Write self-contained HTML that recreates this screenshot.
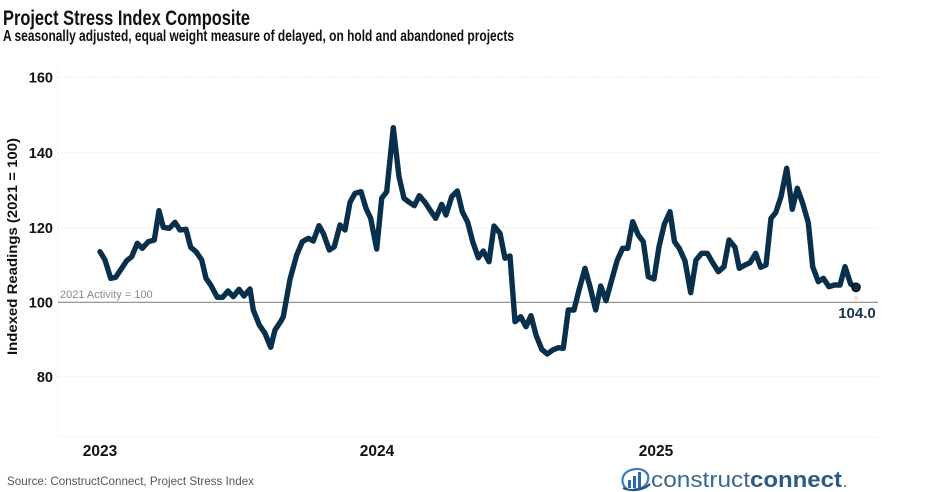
<!DOCTYPE html>
<html>
<head>
<meta charset="utf-8">
<style>
  html, body { margin: 0; padding: 0; background: #ffffff; }
  svg { display: block; }
  text { font-family: "Liberation Sans", Arial, sans-serif; }
</style>
</head>
<body>
<svg width="950" height="492" viewBox="0 0 950 492" xmlns="http://www.w3.org/2000/svg">
  <rect x="0" y="0" width="950" height="492" fill="#ffffff"/>

  <!-- Title / subtitle -->
  <text x="3" y="25" font-size="21" font-weight="bold" fill="#111" textLength="247" lengthAdjust="spacingAndGlyphs">Project Stress Index Composite</text>
  <text x="3" y="41" font-size="15.5" font-weight="bold" fill="#111" textLength="511" lengthAdjust="spacingAndGlyphs">A seasonally adjusted, equal weight measure of delayed, on hold and abandoned projects</text>

  <!-- plot frame (very faint) -->
  <line x1="58" y1="64" x2="58" y2="437" stroke="#f4f4f4" stroke-width="1"/>
  <line x1="58" y1="437" x2="878" y2="437" stroke="#f4f4f4" stroke-width="1"/>

  <!-- gridlines -->
  <g stroke="#efefef" stroke-width="1" stroke-dasharray="2,1">
    <line x1="58" y1="77.3" x2="878" y2="77.3"/>
    <line x1="58" y1="152.6" x2="878" y2="152.6"/>
    <line x1="58" y1="227.6" x2="878" y2="227.6"/>
    <line x1="58" y1="376.8" x2="878" y2="376.8"/>
  </g>
  <!-- 100 baseline -->
  <line x1="58" y1="302.3" x2="878" y2="302.3" stroke="#8a8a8a" stroke-width="1.2"/>
  <text x="60" y="298" font-size="11" fill="#8a8a8a">2021 Activity = 100</text>

  <!-- Y tick labels -->
  <g font-size="14.5" font-weight="bold" fill="#111" text-anchor="end">
    <text x="53" y="82.5">160</text>
    <text x="53" y="157.8">140</text>
    <text x="53" y="232.8">120</text>
    <text x="53" y="307.5">100</text>
    <text x="53" y="382">80</text>
  </g>

  <!-- Y axis title -->
  <text transform="translate(17,246.5) rotate(-90)" text-anchor="middle" font-size="14" font-weight="bold" fill="#111" textLength="217" lengthAdjust="spacingAndGlyphs">Indexed Readings (2021 = 100)</text>

  <!-- X year labels -->
  <g font-size="15.5" font-weight="bold" fill="#111" text-anchor="middle">
    <text x="100" y="456">2023</text>
    <text x="377" y="456">2024</text>
    <text x="656" y="456">2025</text>
  </g>

  <!-- Series -->
  <polyline fill="none" stroke="#08304c" stroke-width="5.4" stroke-linejoin="round" stroke-linecap="round"
    points="100,251.7 105,260 110.7,278.3 115.7,277.3 121.7,268.3 126.7,260.7 131.7,256.7 137.3,243.3 142.3,248.3 148.3,241.7 154.3,240 159,210.7 163.3,227.3 169.3,228.3 175,222.3 180,230 186,229.3 190.7,247.3 196,251.7 201.7,260 206,278.3 210.7,285 217.3,297.3 222.7,297.3 228,291 233.3,296.7 239,289.3 244,296 250,289 253.3,310 259.3,325 265,333.3 270.7,347.3 275,330 281,321 283.3,316.7 290,279.3 296.7,255 302.3,241.7 308.3,238.3 313.3,241 319,225.7 323.3,233.3 329.3,250 334.3,246.7 340,225 345,230 350,202.3 355,193.3 361,191.7 366,208.3 370.7,218.3 376.7,249 381.7,198.3 386.7,191.7 393.3,127.7 399,176.7 404,198.3 409.3,202.3 414.3,205.7 419.3,195.7 425,202.3 430,210 435.7,218.3 441.7,204.3 446,215 451.7,196.7 457.3,191 462.3,211.7 467.7,222.3 472.7,241.7 478.3,257.7 483.3,251 489,261.7 494,226 500,233.3 505,258.3 510,256 515,321.7 520.7,316.7 526,326.7 531,315.7 536,335 541.7,349.3 547.3,354 552.7,350 558.3,347.7 563.3,348.3 568.3,310 574,310 579,290 585,268.3 590,286.7 595.7,310 600.7,286 606,300.7 611.7,280 617.3,260 622.7,248.3 627.7,248.3 632.7,221.7 638.3,235 643.3,241.7 648.3,276.7 654,279 659,246.7 664.3,224.3 670,211.7 674.5,241.7 679.3,248.3 685,261 690.7,292.7 696,260 701.7,253.3 707.3,253.3 712.7,262.7 718.3,271.7 724,266.7 729,240 735,247.3 739.3,268.3 745,265 750,262.7 755.7,253.3 760.7,267.3 766,265 771,218.3 775.7,212.7 781,196.7 786.7,168.3 792.3,209.3 797.3,188.3 802.7,203.3 808.3,222.7 812.7,266.7 818.3,281.7 823.3,278.3 829,286.7 834.3,285 840,285 845,266.7 850.7,284 856,287.3"/>

  <!-- End point -->
  <circle cx="856" cy="287.3" r="4.3" fill="#0c2a40" stroke="#000" stroke-width="1"/>
  <path d="M856,296 L858,298 L856,300 L854,298 Z" fill="none" stroke="#d9c9b0" stroke-width="0.8"/>
  <text x="857" y="318" text-anchor="middle" font-size="15" font-weight="bold" fill="#1b3550">104.0</text>

  <!-- Source -->
  <text x="7" y="485" font-size="12" fill="#555" textLength="247" lengthAdjust="spacingAndGlyphs">Source: ConstructConnect, Project Stress Index</text>

  <!-- Logo -->
  <g>
    <path d="M627,489 C620,484 621,473 631,470 C640,467 650,471 648,480 C647,486 640,490 634,489" fill="none" stroke="#3b7cbf" stroke-width="2.2"/>
    <rect x="628" y="480" width="3" height="8" fill="#2b6aa8"/>
    <rect x="633" y="476" width="3" height="12" fill="#2b6aa8"/>
    <rect x="638" y="472" width="3" height="16" fill="#2b6aa8"/>
    <path d="M623,488 C632,492 644,490 650,484" fill="none" stroke="#1e4f80" stroke-width="2"/>
  </g>
  <text x="651" y="487" font-size="22" fill="#3a6890" textLength="99" lengthAdjust="spacingAndGlyphs" style="font-weight:normal">construct</text>
  <text x="750" y="487" font-size="22" font-weight="bold" fill="#2a5b86" textLength="92" lengthAdjust="spacingAndGlyphs">connect</text>
  <circle cx="845" cy="486" r="1" fill="#2a5b86"/>
</svg>
</body>
</html>
